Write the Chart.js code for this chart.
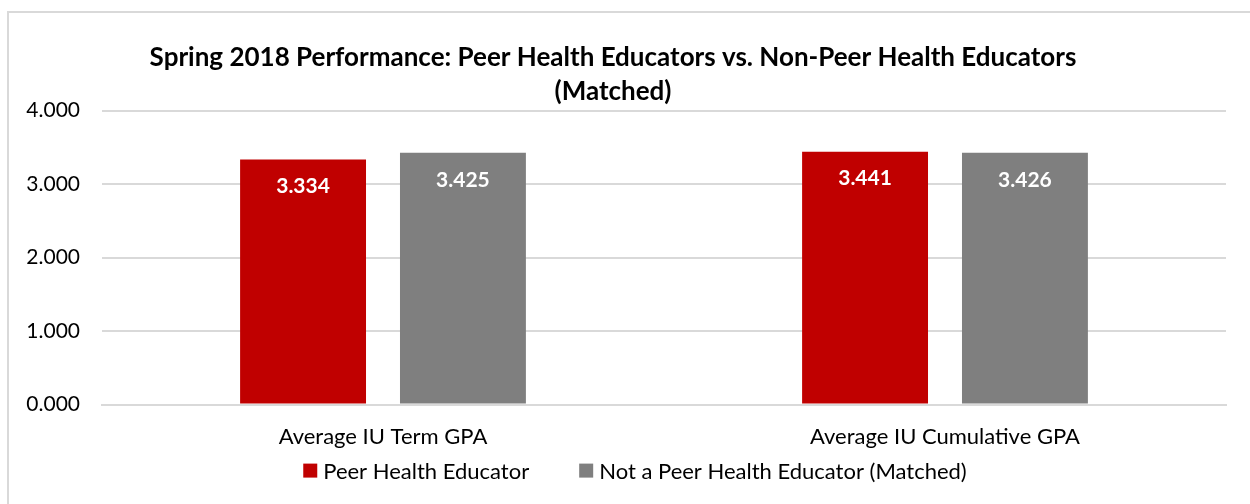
<!DOCTYPE html>
<html>
<head>
<meta charset="utf-8">
<script src="https://cdn.jsdelivr.net/npm/chart.js@4.4.1/dist/chart.umd.min.js"></script>
<style>
  html, body { margin: 0; padding: 0; background: #fff; }
  #wrap { width: 1250px; height: 504px; position: relative; }
</style>
</head>
<body>
<div id="wrap"><canvas id="c" width="1250" height="504"></canvas></div>
<script>
const categories = ["Average IU Term GPA", "Average IU Cumulative GPA"];
const seriesNames = ["Peer Health Educator", "Not a Peer Health Educator (Matched)"];
const peerValues = [3.334, 3.441];
const notPeerValues = [3.425, 3.426];
const yTicks = [0, 1, 2, 3, 4];
const titleLines = ["Spring 2018 Performance: Peer Health Educators vs. Non-Peer Health Educators", "(Matched)"];

const FONT = "Lato, 'Open Sans', sans-serif";

const borderPlugin = {
  id: 'outerBorder',
  beforeDraw(chart) {
    const ctx = chart.ctx;
    ctx.save();
    ctx.fillStyle = '#ffffff';
    ctx.fillRect(0, 0, chart.width, chart.height);
    ctx.strokeStyle = '#D9D9D9';
    ctx.lineWidth = 2;
    ctx.strokeRect(8, 12, 1400, 700);
    ctx.restore();
  }
};

const labelPlugin = {
  id: 'barLabels',
  afterDatasetsDraw(chart) {
    const ctx = chart.ctx;
    ctx.save();
    ctx.fillStyle = '#ffffff';
    ctx.font = "bold 21px " + FONT;
    ctx.textAlign = 'center';
    ctx.textBaseline = 'middle';
    chart.data.datasets.forEach((ds, i) => {
      const meta = chart.getDatasetMeta(i);
      meta.data.forEach((el, j) => {
        ctx.fillText(ds.data[j].toFixed(3), el.x, el.y + 27);
      });
    });
    ctx.restore();
  }
};

// Legend drawn from the datasets (label + colour), spaced like the reference
const legendPlugin = {
  id: 'bottomLegend',
  afterDraw(chart) {
    const ctx = chart.ctx;
    const box = 14, textGap = 6, itemGap = 50;
    ctx.save();
    ctx.font = "22px " + FONT;
    ctx.textBaseline = 'middle';
    ctx.textAlign = 'left';
    const items = chart.data.datasets.map(ds => ({
      text: ds.label, color: ds.backgroundColor,
      w: box + textGap + ctx.measureText(ds.label).width
    }));
    const total = items.reduce((s, it) => s + it.w, 0) + itemGap * (items.length - 1);
    const cy = chart.chartArea.bottom + 66;
    let x = chart.width / 2 + 10 - total / 2;
    items.forEach(it => {
      ctx.fillStyle = it.color;
      ctx.fillRect(x, cy - box / 2, box, box);
      ctx.fillStyle = '#000';
      ctx.fillText(it.text, x + box + textGap, cy + 1);
      x += it.w + itemGap;
    });
    ctx.restore();
  }
};

new Chart(document.getElementById('c'), {
  type: 'bar',
  data: {
    labels: categories,
    datasets: [
      { label: seriesNames[0], data: peerValues, backgroundColor: '#C00000',
        categoryPercentage: 0.569, barPercentage: 0.7875 },
      { label: seriesNames[1], data: notPeerValues, backgroundColor: '#7F7F7F',
        categoryPercentage: 0.569, barPercentage: 0.7875 }
    ]
  },
  options: {
    responsive: false,
    animation: false,
    layout: { padding: { top: 30, left: 0, right: 24, bottom: 43 } },
    plugins: {
      title: {
        display: true,
        text: titleLines,
        color: '#000',
        font: { family: FONT, size: 26, weight: 'bold', lineHeight: 1.3 },
        padding: { top: 11, bottom: 2 }
      },
      legend: { display: false },
      tooltip: { enabled: false }
    },
    scales: {
      x: {
        grid: { display: false },
        border: { display: true, color: '#D9D9D9', width: 2 },
        ticks: { color: '#000', font: { family: FONT, size: 22 }, padding: 11 }
      },
      y: {
        min: 0, max: 4,
        afterBuildTicks(scale) { scale.ticks = yTicks.map(v => ({ value: v })); },
        afterFit(scale) { scale.width = 102; },
        grid: { color: '#D9D9D9', lineWidth: 2, drawTicks: false },
        border: { display: false },
        ticks: {
          color: '#000', font: { family: FONT, size: 21 }, padding: 22,
          callback: v => Number(v).toFixed(3)
        }
      }
    }
  },
  plugins: [borderPlugin, labelPlugin, legendPlugin]
});
</script>
</body>
</html>
